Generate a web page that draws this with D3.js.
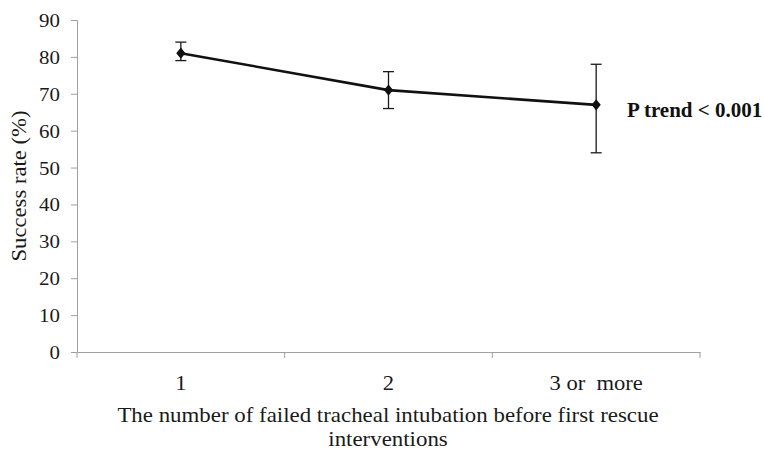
<!DOCTYPE html>
<html><head><meta charset="utf-8">
<script src="https://cdn.jsdelivr.net/npm/d3@7"></script>
<style>body{margin:0;background:#fff}svg{display:block}text{font-family:"Liberation Serif","DejaVu Serif",serif;white-space:pre}</style>
</head><body>
<svg id="c" width="764" height="452"></svg>
<script>
const categories = ["1", "2", "3 or  more"];
const successRate = [81, 71, 67];
const errLow = [79, 66, 54];
const errHigh = [84, 76, 78];
const yTicks = [0, 10, 20, 30, 40, 50, 60, 70, 80, 90];

const svg = d3.select("#c");
const m = {l: 77, r: 700, t: 20, b: 352};
const x = d3.scaleBand().domain(categories).range([m.l, m.r]);
const y = d3.scaleLinear().domain([0, 90]).range([m.b, m.t]);
const grey = "#a0a0a0";
const ink = "#1a1a1a";

// y axis
const ya = svg.append("g").attr("transform", `translate(${m.l},0)`)
  .call(d3.axisLeft(y).tickValues(yTicks).tickSize(6).tickPadding(9.5));
ya.select(".domain").attr("stroke", grey);
ya.selectAll(".tick line").attr("stroke", grey);
ya.selectAll("text").attr("font-size", 19).attr("fill", ink)
  .attr("dy", "0.34em")
  .attr("transform", "scale(1.1,1)");

// x axis
const xa = svg.append("g").attr("transform", `translate(0,${m.b})`)
  .call(d3.axisBottom(x).tickSize(0));
xa.select(".domain").attr("stroke", grey);
xa.selectAll("text").attr("font-size", 20).attr("fill", ink)
  .attr("transform", "scale(1.13,1)").attr("x", 0).attr("y", 38).attr("dy", 0);
// boundary ticks
const bounds = categories.map(c => x(c)).concat([x(categories[categories.length-1]) + x.bandwidth()]);
svg.append("g").selectAll("line").data(bounds).join("line")
  .attr("x1", d => d).attr("x2", d => d).attr("y1", m.b).attr("y2", m.b + 6)
  .attr("stroke", grey);

const cx = (d, i) => x(categories[i]) + x.bandwidth() / 2;

// error bars
const eb = svg.append("g").attr("stroke", ink).attr("stroke-width", 1.3);
successRate.forEach((v, i) => {
  const px = cx(v, i);
  eb.append("line").attr("x1", px).attr("x2", px).attr("y1", y(errLow[i])).attr("y2", y(errHigh[i]));
  eb.append("line").attr("x1", px - 5.5).attr("x2", px + 5.5).attr("y1", y(errLow[i])).attr("y2", y(errLow[i]));
  eb.append("line").attr("x1", px - 5.5).attr("x2", px + 5.5).attr("y1", y(errHigh[i])).attr("y2", y(errHigh[i]));
});

// line
svg.append("path").datum(successRate)
  .attr("fill", "none").attr("stroke", "#111").attr("stroke-width", 2.6)
  .attr("d", d3.line().x((d, i) => cx(d, i)).y(d => y(d)));

// markers (diamond, 9 wide x 11 tall)
const diamond = {draw(ctx, size) {
  const w = 4.6, h = 5.6;
  ctx.moveTo(0, -h); ctx.lineTo(w, 0); ctx.lineTo(0, h); ctx.lineTo(-w, 0); ctx.closePath();
}};
svg.append("g").selectAll("path").data(successRate).join("path")
  .attr("d", d3.symbol(diamond, 64))
  .attr("transform", (d, i) => `translate(${cx(d, i)},${y(d)})`)
  .attr("fill", "#111");

// annotation
svg.append("g").attr("transform", `translate(627,117)`)
  .append("text").attr("font-size", 21).attr("font-weight", "bold").attr("fill", "#111")
  .text("P trend < 0.001");

// y title
svg.append("g").attr("transform", `translate(26,186) rotate(-90) scale(1.08,1)`)
  .append("text").attr("text-anchor", "middle").attr("font-size", 21).attr("fill", ink)
  .text("Success rate (%)");

// x title
svg.append("g").attr("transform", `translate(388,422) scale(1.09,1)`)
  .append("text").attr("text-anchor", "middle").attr("font-size", 21).attr("fill", ink)
  .text("The number of failed tracheal intubation before first rescue");
svg.append("g").attr("transform", `translate(388,446) scale(1.09,1)`)
  .append("text").attr("text-anchor", "middle").attr("font-size", 21).attr("fill", ink)
  .text("interventions");
</script>
</body></html>
